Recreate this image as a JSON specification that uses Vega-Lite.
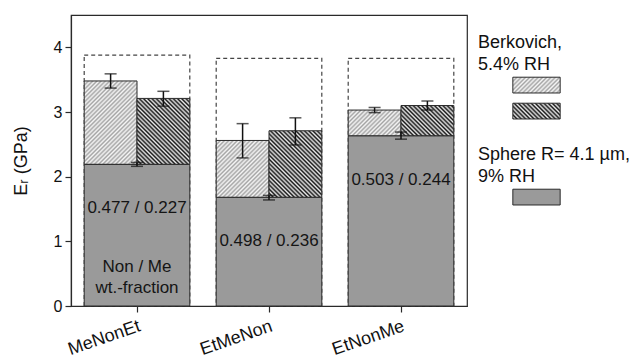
{
  "$schema": "https://vega.github.io/schema/vega-lite/v6.json",
  "width": 396,
  "height": 291,
  "autosize": {"type": "none"},
  "padding": {"left": 71, "top": 15, "right": 167, "bottom": 55},
  "background": "#ffffff",
  "config": {
    "font": "Liberation Sans",
    "view": {"stroke": "#2a2a2a", "strokeWidth": 1.2},
    "axis": {"domainColor": "#2a2a2a", "tickColor": "#2a2a2a", "labelColor": "#111111", "titleColor": "#111111", "grid": false, "titleFontWeight": "normal", "domainWidth": 1.2, "tickWidth": 1.2},
    "legend": {"titleFontWeight": "normal"}
  },
  "params": [
    {"name": "lightStops", "value": [
      {"offset":0,"color":"#a4a4a4"},{"offset":0.015625,"color":"#f6f6f6"},{"offset":0.03125,"color":"#a4a4a4"},{"offset":0.046875,"color":"#f6f6f6"},
      {"offset":0.0625,"color":"#a4a4a4"},{"offset":0.078125,"color":"#f6f6f6"},{"offset":0.09375,"color":"#a4a4a4"},{"offset":0.109375,"color":"#f6f6f6"},
      {"offset":0.125,"color":"#a4a4a4"},{"offset":0.140625,"color":"#f6f6f6"},{"offset":0.15625,"color":"#a4a4a4"},{"offset":0.171875,"color":"#f6f6f6"},
      {"offset":0.1875,"color":"#a4a4a4"},{"offset":0.203125,"color":"#f6f6f6"},{"offset":0.21875,"color":"#a4a4a4"},{"offset":0.234375,"color":"#f6f6f6"},
      {"offset":0.25,"color":"#a4a4a4"},{"offset":0.265625,"color":"#f6f6f6"},{"offset":0.28125,"color":"#a4a4a4"},{"offset":0.296875,"color":"#f6f6f6"},
      {"offset":0.3125,"color":"#a4a4a4"},{"offset":0.328125,"color":"#f6f6f6"},{"offset":0.34375,"color":"#a4a4a4"},{"offset":0.359375,"color":"#f6f6f6"},
      {"offset":0.375,"color":"#a4a4a4"},{"offset":0.390625,"color":"#f6f6f6"},{"offset":0.40625,"color":"#a4a4a4"},{"offset":0.421875,"color":"#f6f6f6"},
      {"offset":0.4375,"color":"#a4a4a4"},{"offset":0.453125,"color":"#f6f6f6"},{"offset":0.46875,"color":"#a4a4a4"},{"offset":0.484375,"color":"#f6f6f6"},
      {"offset":0.5,"color":"#a4a4a4"},{"offset":0.515625,"color":"#f6f6f6"},{"offset":0.53125,"color":"#a4a4a4"},{"offset":0.546875,"color":"#f6f6f6"},
      {"offset":0.5625,"color":"#a4a4a4"},{"offset":0.578125,"color":"#f6f6f6"},{"offset":0.59375,"color":"#a4a4a4"},{"offset":0.609375,"color":"#f6f6f6"},
      {"offset":0.625,"color":"#a4a4a4"},{"offset":0.640625,"color":"#f6f6f6"},{"offset":0.65625,"color":"#a4a4a4"},{"offset":0.671875,"color":"#f6f6f6"},
      {"offset":0.6875,"color":"#a4a4a4"},{"offset":0.703125,"color":"#f6f6f6"},{"offset":0.71875,"color":"#a4a4a4"},{"offset":0.734375,"color":"#f6f6f6"},
      {"offset":0.75,"color":"#a4a4a4"},{"offset":0.765625,"color":"#f6f6f6"},{"offset":0.78125,"color":"#a4a4a4"},{"offset":0.796875,"color":"#f6f6f6"},
      {"offset":0.8125,"color":"#a4a4a4"},{"offset":0.828125,"color":"#f6f6f6"},{"offset":0.84375,"color":"#a4a4a4"},{"offset":0.859375,"color":"#f6f6f6"},
      {"offset":0.875,"color":"#a4a4a4"},{"offset":0.890625,"color":"#f6f6f6"},{"offset":0.90625,"color":"#a4a4a4"},{"offset":0.921875,"color":"#f6f6f6"},
      {"offset":0.9375,"color":"#a4a4a4"},{"offset":0.953125,"color":"#f6f6f6"},{"offset":0.96875,"color":"#a4a4a4"},{"offset":0.984375,"color":"#f6f6f6"},
      {"offset":1,"color":"#a4a4a4"}
    ]},
    {"name": "darkStops", "value": [
      {"offset":0,"color":"#141414"},{"offset":0.015625,"color":"#e8e8e8"},{"offset":0.03125,"color":"#141414"},{"offset":0.046875,"color":"#e8e8e8"},
      {"offset":0.0625,"color":"#141414"},{"offset":0.078125,"color":"#e8e8e8"},{"offset":0.09375,"color":"#141414"},{"offset":0.109375,"color":"#e8e8e8"},
      {"offset":0.125,"color":"#141414"},{"offset":0.140625,"color":"#e8e8e8"},{"offset":0.15625,"color":"#141414"},{"offset":0.171875,"color":"#e8e8e8"},
      {"offset":0.1875,"color":"#141414"},{"offset":0.203125,"color":"#e8e8e8"},{"offset":0.21875,"color":"#141414"},{"offset":0.234375,"color":"#e8e8e8"},
      {"offset":0.25,"color":"#141414"},{"offset":0.265625,"color":"#e8e8e8"},{"offset":0.28125,"color":"#141414"},{"offset":0.296875,"color":"#e8e8e8"},
      {"offset":0.3125,"color":"#141414"},{"offset":0.328125,"color":"#e8e8e8"},{"offset":0.34375,"color":"#141414"},{"offset":0.359375,"color":"#e8e8e8"},
      {"offset":0.375,"color":"#141414"},{"offset":0.390625,"color":"#e8e8e8"},{"offset":0.40625,"color":"#141414"},{"offset":0.421875,"color":"#e8e8e8"},
      {"offset":0.4375,"color":"#141414"},{"offset":0.453125,"color":"#e8e8e8"},{"offset":0.46875,"color":"#141414"},{"offset":0.484375,"color":"#e8e8e8"},
      {"offset":0.5,"color":"#141414"},{"offset":0.515625,"color":"#e8e8e8"},{"offset":0.53125,"color":"#141414"},{"offset":0.546875,"color":"#e8e8e8"},
      {"offset":0.5625,"color":"#141414"},{"offset":0.578125,"color":"#e8e8e8"},{"offset":0.59375,"color":"#141414"},{"offset":0.609375,"color":"#e8e8e8"},
      {"offset":0.625,"color":"#141414"},{"offset":0.640625,"color":"#e8e8e8"},{"offset":0.65625,"color":"#141414"},{"offset":0.671875,"color":"#e8e8e8"},
      {"offset":0.6875,"color":"#141414"},{"offset":0.703125,"color":"#e8e8e8"},{"offset":0.71875,"color":"#141414"},{"offset":0.734375,"color":"#e8e8e8"},
      {"offset":0.75,"color":"#141414"},{"offset":0.765625,"color":"#e8e8e8"},{"offset":0.78125,"color":"#141414"},{"offset":0.796875,"color":"#e8e8e8"},
      {"offset":0.8125,"color":"#141414"},{"offset":0.828125,"color":"#e8e8e8"},{"offset":0.84375,"color":"#141414"},{"offset":0.859375,"color":"#e8e8e8"},
      {"offset":0.875,"color":"#141414"},{"offset":0.890625,"color":"#e8e8e8"},{"offset":0.90625,"color":"#141414"},{"offset":0.921875,"color":"#e8e8e8"},
      {"offset":0.9375,"color":"#141414"},{"offset":0.953125,"color":"#e8e8e8"},{"offset":0.96875,"color":"#141414"},{"offset":0.984375,"color":"#e8e8e8"},
      {"offset":1,"color":"#141414"}
    ]},
    {"name": "legLight", "expr": "{gradient: 'linear', x1: 0, y1: 0, x2: 2.588, y2: 0.8627, stops: lightStops}"},
    {"name": "legDark", "expr": "{gradient: 'linear', x1: 0, y1: 1, x2: 2.588, y2: 0.1373, stops: darkStops}"}
  ],
  "datasets": {
    "bars": [
      {"sample": "MeNonEt", "sphere": 2.19, "sphereLo": 2.16, "sphereHi": 2.22, "upper": 3.88, "ratio": "0.477 / 0.227", "note": ["Non / Me", "wt.-fraction"]},
      {"sample": "EtMeNon", "sphere": 1.68, "sphereLo": 1.64, "sphereHi": 1.71, "upper": 3.83, "ratio": "0.498 / 0.236"},
      {"sample": "EtNonMe", "sphere": 2.63, "sphereLo": 2.58, "sphereHi": 2.69, "upper": 3.83, "ratio": "0.503 / 0.244"}
    ],
    "berk": [
      {"sample": "MeNonEt", "series": "light", "E": 3.48, "lo": 3.37, "hi": 3.59, "sphere": 2.19},
      {"sample": "MeNonEt", "series": "dark", "E": 3.21, "lo": 3.09, "hi": 3.32, "sphere": 2.19},
      {"sample": "EtMeNon", "series": "light", "E": 2.56, "lo": 2.29, "hi": 2.82, "sphere": 1.68},
      {"sample": "EtMeNon", "series": "dark", "E": 2.71, "lo": 2.49, "hi": 2.91, "sphere": 1.68},
      {"sample": "EtNonMe", "series": "light", "E": 3.03, "lo": 2.99, "hi": 3.07, "sphere": 2.63},
      {"sample": "EtNonMe", "series": "dark", "E": 3.10, "lo": 3.03, "hi": 3.17, "sphere": 2.63}
    ]
  },
  "encoding": {
    "x": {
      "field": "sample", "type": "nominal",
      "sort": ["MeNonEt", "EtMeNon", "EtNonMe"],
      "scale": {"paddingInner": 0.2, "paddingOuter": 0.1},
      "title": null,
      "axis": {"labelAngle": -19, "labelAlign": "right", "labelBaseline": "top", "labelFontSize": 18, "labelPadding": 5, "tickSize": 6}
    }
  },
  "layer": [
    {
      "data": {"name": "bars"},
      "mark": {"type": "bar", "fillOpacity": 0, "stroke": "#444444", "strokeDash": [4, 3], "strokeWidth": 1.2},
      "encoding": {
        "y": {
          "field": "upper", "type": "quantitative", "scale": {"domain": [0, 4.5]}, "title": "Eᵣ (GPa)",
          "axis": {
            "values": [0, 0.5, 1, 1.5, 2, 2.5, 3, 3.5, 4],
            "format": ".0f",
            "labelExpr": "datum.value % 1 === 0 ? datum.label : ''",
            "tickSize": {"condition": {"test": "datum.value % 1 === 0", "value": 6}, "value": 4},
            "labelFontSize": 16, "labelPadding": 3, "titleFontSize": 18, "titlePadding": 23
          }
        },
        "y2": {"datum": 0}
      }
    },
    {
      "data": {"name": "berk"},
      "mark": {
        "type": "bar", "strokeWidth": 1,
        "fill": {"expr": "datum.series === 'light' ? {gradient: 'linear', x1: 0, y1: 0, x2: 7180.8 / (2787.84 + pow((datum.E - datum.sphere) * 64.667, 2)), y2: 136 * (datum.E - datum.sphere) * 64.667 / (2787.84 + pow((datum.E - datum.sphere) * 64.667, 2)), stops: lightStops} : datum.series === 'dark' ? {gradient: 'linear', x1: 0, y1: 1, x2: 7180.8 / (2787.84 + pow((datum.E - datum.sphere) * 64.667, 2)), y2: 1 - 136 * (datum.E - datum.sphere) * 64.667 / (2787.84 + pow((datum.E - datum.sphere) * 64.667, 2)), stops: darkStops} : (datum.value === 'light' ? legLight : legDark)"}
      },
      "encoding": {
        "xOffset": {"field": "series", "type": "nominal", "sort": ["light", "dark"], "scale": {"paddingInner": 0, "paddingOuter": 0}},
        "y": {"field": "E", "type": "quantitative", "title": "Eᵣ (GPa)"},
        "y2": {"field": "sphere"},
        "stroke": {
          "field": "series", "type": "nominal",
          "scale": {"domain": ["light", "dark"], "range": ["#2a2a2a", "#2a2a2a"]},
          "legend": {
            "title": ["Berkovich,", "5.4% RH"], "orient": "none", "legendX": 407, "legendY": 19, "padding": 0,
            "titleFontSize": 18, "titleLineHeight": 21.6, "titlePadding": 3, "titleColor": "#111111", "titleAnchor": "start",
            "symbolType": "M-3,-1H3V1H-3Z", "symbolSize": 249, "symbolOffset": 50, "symbolStrokeWidth": 1,
            "labelExpr": "''", "labelFontSize": 8, "rowPadding": 5,
            "encode": {"symbols": {"update": {"fill": {"signal": "datum.value === 'light' ? legLight : legDark"}, "fillOpacity": {"value": 1}, "opacity": {"value": 1}}}}
          }
        }
      }
    },
    {
      "data": {"name": "bars"},
      "mark": {"type": "bar", "fill": "#9a9a9a", "strokeWidth": 1},
      "encoding": {
        "y": {"field": "sphere", "type": "quantitative", "title": "Eᵣ (GPa)"},
        "stroke": {
          "datum": "Sphere", "type": "nominal",
          "scale": {"range": ["#2a2a2a"]},
          "legend": {
            "title": ["Sphere R= 4.1 µm,", "9% RH"], "orient": "none", "legendX": 407, "legendY": 131, "padding": 0,
            "titleFontSize": 18, "titleLineHeight": 21.6, "titlePadding": 3, "titleColor": "#111111", "titleAnchor": "start",
            "symbolType": "M-3,-1H3V1H-3Z", "symbolSize": 249, "symbolOffset": 50, "symbolStrokeWidth": 1,
            "labelExpr": "''", "labelFontSize": 8,
            "encode": {"symbols": {"update": {"fill": {"value": "#9a9a9a"}, "fillOpacity": {"value": 1}, "opacity": {"value": 1}}}}
          }
        }
      }
    },
    {
      "data": {"name": "berk"},
      "mark": {"type": "rule", "color": "#111111", "strokeWidth": 1.5},
      "encoding": {
        "xOffset": {"field": "series", "type": "nominal", "sort": ["light", "dark"]},
        "y": {"field": "lo", "type": "quantitative", "title": "Eᵣ (GPa)"},
        "y2": {"field": "hi"}
      }
    },
    {
      "data": {"name": "berk"},
      "mark": {"type": "tick", "color": "#111111", "size": 12, "thickness": 1.5},
      "encoding": {
        "xOffset": {"field": "series", "type": "nominal", "sort": ["light", "dark"]},
        "y": {"field": "lo", "type": "quantitative", "title": "Eᵣ (GPa)"}
      }
    },
    {
      "data": {"name": "berk"},
      "mark": {"type": "tick", "color": "#111111", "size": 12, "thickness": 1.5},
      "encoding": {
        "xOffset": {"field": "series", "type": "nominal", "sort": ["light", "dark"]},
        "y": {"field": "hi", "type": "quantitative", "title": "Eᵣ (GPa)"}
      }
    },
    {
      "data": {"name": "bars"},
      "mark": {"type": "rule", "color": "#111111", "strokeWidth": 1.5},
      "encoding": {
        "y": {"field": "sphereLo", "type": "quantitative", "title": "Eᵣ (GPa)"},
        "y2": {"field": "sphereHi"}
      }
    },
    {
      "data": {"name": "bars"},
      "mark": {"type": "tick", "color": "#111111", "size": 12, "thickness": 1.5},
      "encoding": {
        "y": {"field": "sphereLo", "type": "quantitative", "title": "Eᵣ (GPa)"}
      }
    },
    {
      "data": {"name": "bars"},
      "mark": {"type": "tick", "color": "#111111", "size": 12, "thickness": 1.5},
      "encoding": {
        "y": {"field": "sphereHi", "type": "quantitative", "title": "Eᵣ (GPa)"}
      }
    },
    {
      "data": {"name": "bars"},
      "mark": {"type": "text", "fontSize": 17, "dy": 44, "baseline": "middle", "align": "center", "color": "#151515"},
      "encoding": {
        "y": {"field": "sphere", "type": "quantitative", "title": "Eᵣ (GPa)"},
        "text": {"field": "ratio"}
      }
    },
    {
      "data": {"name": "bars"},
      "transform": [{"filter": "isValid(datum.note)"}],
      "mark": {"type": "text", "fontSize": 17, "dy": 102.6, "baseline": "middle", "align": "center", "lineHeight": 20.6, "color": "#151515"},
      "encoding": {
        "y": {"field": "sphere", "type": "quantitative", "title": "Eᵣ (GPa)"},
        "text": {"field": "note"}
      }
    }
  ],
  "resolve": {"scale": {"stroke": "independent"}, "legend": {"stroke": "independent"}}
}
